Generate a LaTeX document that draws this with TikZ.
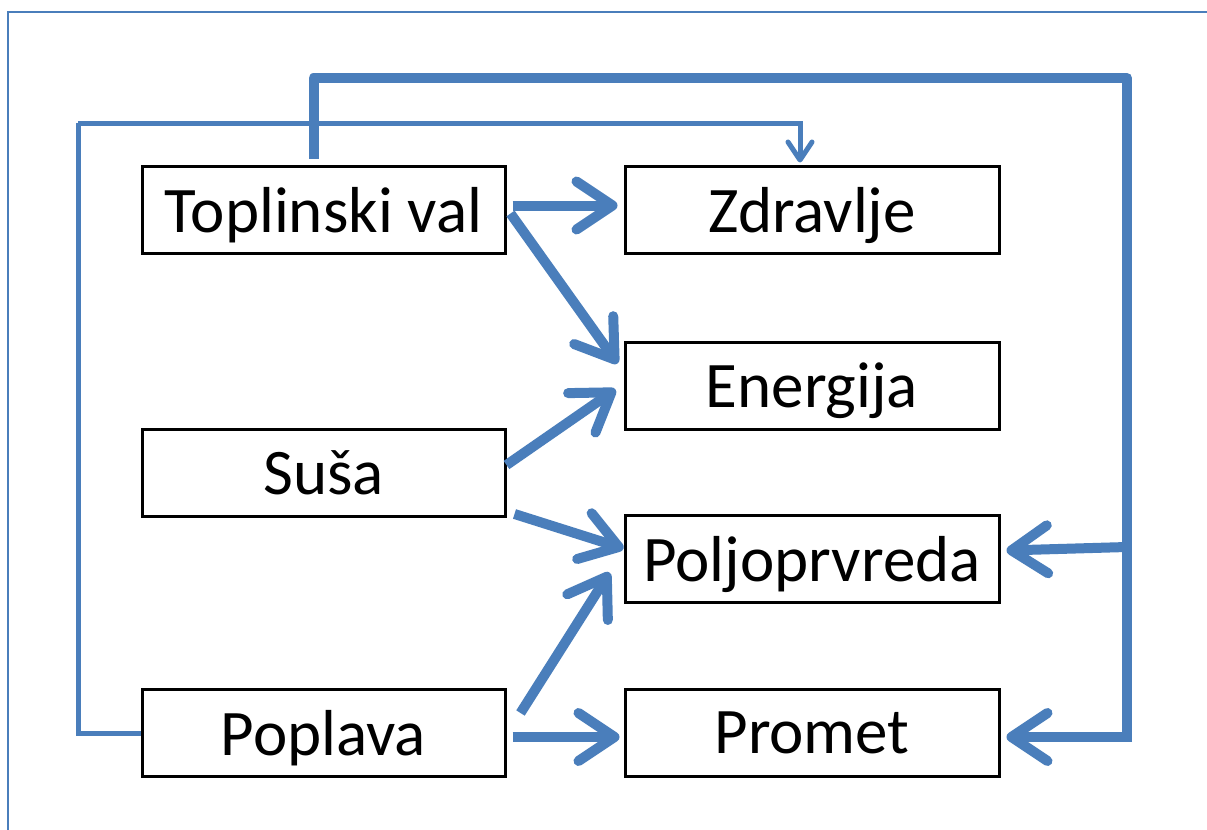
\documentclass[tikz,border=0pt]{standalone}
\usepackage{fontspec}
\setmainfont{Carlito}
\usetikzlibrary{arrows.meta}

\definecolor{lineblue}{RGB}{74,126,187}

\tikzset{
	box/.style={draw=black, line width=1.5pt, minimum width=181.5pt, minimum height=43.5pt, inner sep=0pt, text depth=0pt, font=\fontsize{32.5}{38}\selectfont},
	widebox/.style={box, minimum width=187pt},
	bigarrow/.style={draw=lineblue, line width=5pt, -{Straight Barb[length=18pt, width=24pt, round]}},
	bigline/.style={draw=lineblue, line width=5pt, line join=round},
	smallline/.style={draw=lineblue, line width=2.5pt},
	smallarrow/.style={draw=lineblue, line width=2.5pt, -{Straight Barb[length=9pt, width=12pt, round]}}
}

\begin{document}
\begin{tikzpicture}[x=0.5pt, y=-0.5pt]

		\useasboundingbox (0, 0) rectangle (1207, 830);
		\draw[lineblue, line width=0.8pt](1207, 12) -- (8, 12) -- (8, 830);

		% left column
		\node[box] (tv) at(323.5, 209.5){Toplinski val};
		\node[box] (su) at(323.5, 473){Suša};
		\node[box] (pp) at(323.5, 733){Poplava};

		% right column
		\node[widebox] (zd) at(812, 209.5){Zdravlje};
		\node[widebox] (en) at(812, 385.5){Energija};
		\node[widebox] (pr) at(812, 558.5){Poljoprvreda};
		\node[widebox] (pm) at(812, 733){Promet};

		\coordinate (topright) at(1127, 78);
		\coordinate (botright) at(1127, 737);
		\coordinate (prright) at(1127, 547);
		\coordinate (leftbot) at(78, 733);
		\coordinate (lefttop) at(78, 123);

		% direct effects
		\draw[bigarrow]([xshift=3pt, yshift=2pt]tv.east) to ([xshift=-3pt, yshift=2pt]zd.west);
		\draw[bigarrow]([xshift=2pt, yshift=-2pt]tv.east) to ([xshift=-3pt, yshift=11pt]en.west);
		\draw[bigarrow]([yshift=4pt]su.east) to ([xshift=-4pt, yshift=-2pt]en.west);
		\draw[bigarrow]([xshift=4pt, yshift=2pt]su.south east) to ([yshift=5pt]pr.west);
		\draw[bigarrow]([xshift=7pt, yshift=10pt]pp.east) to ([xshift=-7pt, yshift=-7pt]pr.west);
		\draw[bigarrow]([xshift=3pt, yshift=-2pt]pp.east) to ([xshift=-2pt, yshift=-2pt]pm.west);

		% heat wave feedback
		\draw[bigline]([xshift=-5pt, yshift=3pt]tv.north) |- (topright) -- (botright);
		\draw[bigarrow](prright) to ([xshift=3pt, yshift=4pt]pr.east);
		\draw[bigarrow]([xshift=2.5pt]botright) to ([xshift=3pt, yshift=-2pt]pm.east);

		% flood to health
		\draw[smallline](pp.west) -- (leftbot) -- (lefttop);
		\draw[smallarrow](lefttop) -| ([xshift=-6pt, yshift=1pt]zd.north);

	\end{tikzpicture}
\end{document}
